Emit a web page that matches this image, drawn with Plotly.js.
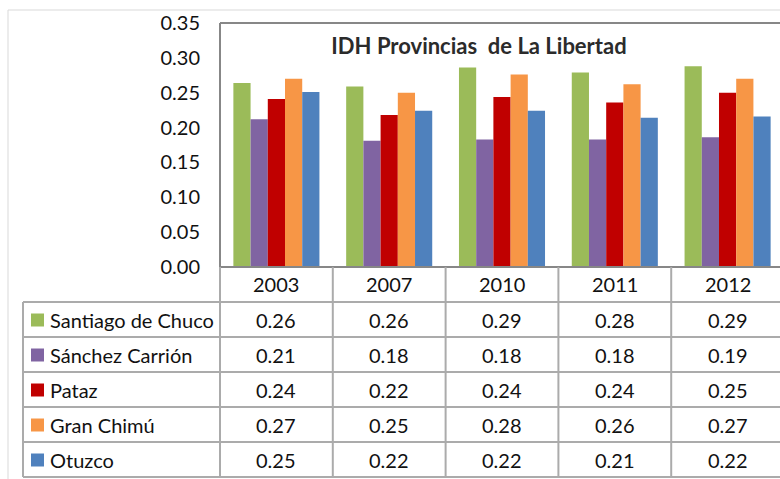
<!DOCTYPE html>
<html>
<head>
<meta charset="utf-8">
<script src="https://cdn.plot.ly/plotly-3.0.1.min.js"></script>
<style>
html,body{margin:0;padding:0;overflow:hidden;background:#fff;}
#chart{width:784px;height:479px;}
</style>
</head>
<body>
<div id="chart"></div>
<script>
// ---- data ----
var years = ['2003', '2007', '2010', '2011', '2012'];
var seriesNames = ['Santiago de Chuco', 'Sánchez Carrión', 'Pataz', 'Gran Chimú', 'Otuzco'];
var santiagoDeChuco = [0.264, 0.259, 0.286, 0.279, 0.288];
var sanchezCarrion  = [0.212, 0.181, 0.183, 0.183, 0.186];
var pataz           = [0.241, 0.218, 0.244, 0.236, 0.250];
var granChimu       = [0.270, 0.250, 0.276, 0.262, 0.270];
var otuzco          = [0.251, 0.224, 0.224, 0.214, 0.216];
var yTicks = [0, 0.05, 0.10, 0.15, 0.20, 0.25, 0.30, 0.35];
var chartTitle = 'IDH Provincias  de La Libertad';

// ---- styles ----
var seriesValues = [santiagoDeChuco, sanchezCarrion, pataz, granChimu, otuzco];
var colors = ['#9BBB59', '#8064A2', '#C00000', '#F79646', '#4F81BD'];
var FONT = 'Lato, Calibri, Carlito, sans-serif';
var TXT = '#111111';
var GRID = '#ABABAB';
var BOX = '#878787';
var FS = 20;

var W = 784, H = 479;
var ML = 220, MR = 0, MT = 23, MB = 212;
var PW = W - ML - MR, PH = H - MT - MB;
function px(x) { return (x - ML) / PW; }      // pixel x -> paper
function py(y) { return (H - MB - y) / PH; }  // pixel y -> paper

var traces = seriesValues.map(function (vals, i) {
  return {
    type: 'bar', name: seriesNames[i], x: years, y: vals,
    marker: { color: colors[i], line: { width: 0 } },
    hoverinfo: 'x+y+name'
  };
});

var shapes = [];
var annotations = [];
function hline(x0, x1, y, color, w) {
  shapes.push({ type: 'line', xref: 'paper', yref: 'paper', x0: px(x0), x1: px(x1), y0: py(y), y1: py(y), line: { color: color, width: w } });
}
function vline(x, y0, y1, color, w) {
  shapes.push({ type: 'line', xref: 'paper', yref: 'paper', x0: px(x), x1: px(x), y0: py(y0), y1: py(y1), line: { color: color, width: w } });
}

// outer chart border
hline(8, W, 10, '#D9D9D9', 1);
vline(8, 10, H, '#D9D9D9', 1);

// plot box
hline(ML, W, MT, BOX, 2);
vline(ML, MT, H - MB, BOX, 2);
hline(ML, W, H - MB, BOX, 2);

// data table geometry
var rowTop = H - MB;      // 267
var rowH = 35;
var tableLeft = 23;
var nRows = seriesNames.length + 1;
var tableBottom = rowTop + rowH * nRows;

// horizontal table lines
for (var r = 1; r <= nRows; r++) {
  hline(tableLeft, W, rowTop + r * rowH, GRID, 2);
}
// vertical table lines
vline(tableLeft, rowTop + rowH, tableBottom, GRID, 2);
vline(ML, rowTop, tableBottom, GRID, 2);
for (var c = 1; c < years.length; c++) {
  shapes.push({ type: 'line', xref: 'x', yref: 'paper', x0: c - 0.5, x1: c - 0.5, y0: py(rowTop), y1: py(tableBottom), line: { color: GRID, width: 2 } });
}

// header (years)
years.forEach(function (yr, j) {
  annotations.push({ xref: 'x', yref: 'paper', x: j, y: py(rowTop + rowH / 2 - 1), text: yr, showarrow: false,
    xanchor: 'center', yanchor: 'middle', font: { family: FONT, size: FS, color: TXT } });
});

// rows
seriesNames.forEach(function (name, i) {
  var yc = rowTop + rowH * (i + 1) + rowH / 2;
  // swatch
  shapes.push({ type: 'rect', xref: 'paper', yref: 'paper', x0: px(31), x1: px(44), y0: py(yc - 6), y1: py(yc + 7),
    fillcolor: colors[i], line: { width: 0 } });
  annotations.push({ xref: 'paper', yref: 'paper', x: px(48), y: py(yc), text: name, showarrow: false,
    xanchor: 'left', yanchor: 'middle', font: { family: FONT, size: FS, color: TXT } });
  seriesValues[i].forEach(function (v, j) {
    annotations.push({ xref: 'x', yref: 'paper', x: j, y: py(yc), text: v.toFixed(2), showarrow: false,
      xanchor: 'center', yanchor: 'middle', font: { family: FONT, size: FS, color: TXT } });
  });
});

var layout = {
  width: W, height: H,
  margin: { l: ML, r: MR, t: MT, b: MB, pad: 0 },
  paper_bgcolor: '#fff', plot_bgcolor: '#fff',
  showlegend: false,
  barmode: 'group', bargap: 0.237, bargroupgap: 0,
  title: { text: '<b>' + chartTitle + '</b>', xref: 'container', yref: 'container', x: 479 / W, xanchor: 'center',
    y: 1 - 46 / H, yanchor: 'middle', font: { family: FONT, size: 22, color: '#2b2b2b' } },
  xaxis: { type: 'category', showticklabels: false, ticks: '', showgrid: false, zeroline: false, showline: false,
    range: [-0.5, years.length - 0.5], fixedrange: true },
  yaxis: { range: [0, 0.35], tickvals: yTicks, ticktext: yTicks.map(function (t) { return t.toFixed(2); }),
    showgrid: false, zeroline: false, showline: false, ticks: 'outside', ticklen: 15, tickcolor: 'rgba(0,0,0,0)',
    tickfont: { family: FONT, size: FS, color: TXT }, fixedrange: true },
  shapes: shapes,
  annotations: annotations
};

Plotly.newPlot('chart', traces, layout, { displayModeBar: false, staticPlot: true });
</script>
</body>
</html>
